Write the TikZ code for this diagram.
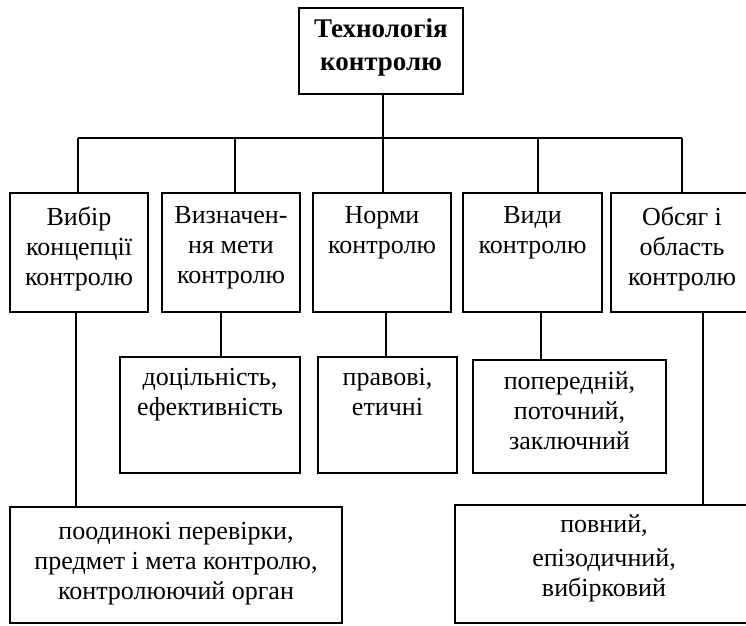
\documentclass[tikz,border=0pt]{standalone}
\usepackage{fontspec}
\setmainfont{Liberation Serif}
\begin{document}
\begin{tikzpicture}[x=1pt,y=-1pt,
  box/.style={draw, line width=2.5pt, inner sep=0pt},
  conn/.style={line width=2.4pt},
  txt/.style={inner sep=0pt, align=center, font=\fontsize{26}{30}\selectfont, anchor=north}]
\useasboundingbox (0,0) rectangle (746,625);
\clip (0,0) rectangle (746,625);
% boxes
\node[box, minimum width=164pt, minimum height=86pt] (T) at (381,51) {};
\node[box, minimum width=138pt, minimum height=119pt] (M1) at (79,252.5) {};
\node[box, minimum width=138pt, minimum height=119pt] (M2) at (231,252.5) {};
\node[box, minimum width=138pt, minimum height=119pt] (M3) at (382,252.5) {};
\node[box, minimum width=139pt, minimum height=119pt] (M4) at (532.5,252.5) {};
\node[box, minimum width=142pt, minimum height=119pt] (M5) at (682,252.5) {};
\node[box, minimum width=180pt, minimum height=116pt] (A) at (210,415) {};
\node[box, minimum width=139pt, minimum height=116pt] (B) at (387.5,415) {};
\node[box, minimum width=193pt, minimum height=113pt] (C) at (569.5,416.5) {};
\node[box, minimum width=332pt, minimum height=116pt] (D) at (176,565) {};
\node[box, minimum width=298pt, minimum height=118pt] (E) at (604,564) {};
% texts
\node[inner sep=0pt, align=center, font=\fontsize{27}{33}\selectfont\bfseries] (tT) at ([yshift=3pt]T.center) {Технологія\\контролю};
\node[txt] (t1) at ([yshift=-15pt]M1.north) {Вибір\\концепції\\контролю};
\node[txt] (t2) at ([yshift=-15pt]M2.north) {Визначен-\\ня мети\\контролю};
\node[txt] (t3) at ([yshift=-15pt]M3.north) {Норми\\контролю};
\node[txt] (t4) at ([yshift=-15pt]M4.north) {Види\\контролю};
\node[txt] (t5) at ([yshift=-15pt]M5.north) {Обсяг і\\область\\контролю};
\node[txt] (tA) at ([yshift=-12pt]A.north) {доцільність,\\ефективність};
\node[txt] (tB) at ([yshift=-12pt]B.north) {правові,\\етичні};
\node[txt] (tC) at ([yshift=-13pt]C.north) {попередній,\\поточний,\\заключний};
\node[txt] (tD) at ([yshift=-16pt]D.north) {поодинокі перевірки,\\предмет і мета контролю,\\контролюючий орган};
\node[txt] (tE) at ([yshift=-11pt]E.north) {повний,\\[4pt]епізодичний,\\вибірковий};
% connectors
\coordinate (busL) at (78,138);
\coordinate (busR) at (682,138);
\draw[conn] ([xshift=2pt]T.south) -- ([xshift=2pt]T.south |- busL);
\draw[conn] (busL) -- (busR);
\draw[conn] ([xshift=-1pt]M1.north) -- ([xshift=-1pt]M1.north |- busL);
\draw[conn] ([xshift=4pt]M2.north) -- ([xshift=4pt]M2.north |- busL);
\draw[conn] ([xshift=1pt]M3.north) -- ([xshift=1pt]M3.north |- busL);
\draw[conn] ([xshift=5.5pt]M4.north) -- ([xshift=5.5pt]M4.north |- busL);
\draw[conn] (M5.north) -- (M5.north |- busR);
\draw[conn] ([xshift=-3pt]M1.south) -- ([xshift=-3pt]M1.south |- D.north);
\draw[conn] ([xshift=-10pt]M2.south) -- ([xshift=-10pt]M2.south |- A.north);
\draw[conn] ([xshift=4pt]M3.south) -- ([xshift=4pt]M3.south |- B.north);
\draw[conn] ([xshift=8.5pt]M4.south) -- ([xshift=8.5pt]M4.south |- C.north);
\draw[conn] ([xshift=21pt]M5.south) -- ([xshift=21pt]M5.south |- E.north);
\end{tikzpicture}
\end{document}
